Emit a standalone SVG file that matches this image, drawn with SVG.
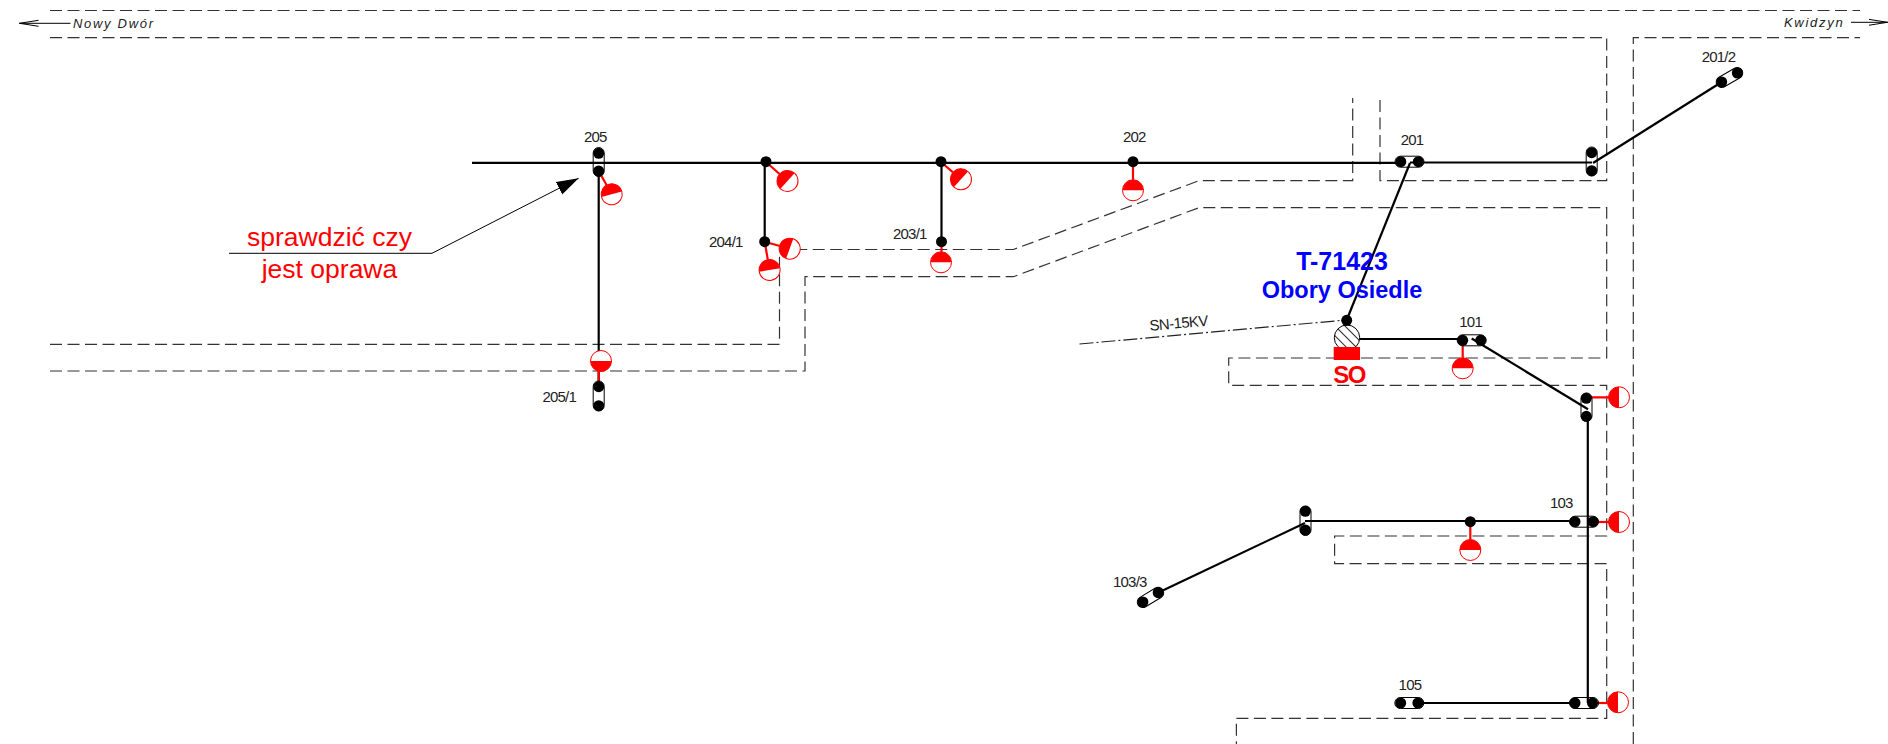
<svg xmlns="http://www.w3.org/2000/svg" width="1888" height="744" viewBox="0 0 1888 744">
<style>
text{font-family:"Liberation Sans",Arial,sans-serif}
.lb{font-size:15px;fill:#222;letter-spacing:-0.8px}
.town{font-size:13px;font-style:italic;fill:#222;letter-spacing:1.7px}
.note{font-size:26.5px;fill:#f00;text-anchor:middle}
.blue{font-size:23.5px;font-weight:bold;fill:#00f;text-anchor:middle}
.d{fill:none;stroke:#333;stroke-width:1.2;stroke-dasharray:12 5.5}
.w{fill:none;stroke:#000;stroke-width:2.2}
.t{fill:none;stroke:#000;stroke-width:1}
.r{fill:none;stroke:#f00;stroke-width:2.2}
.cap{fill:none;stroke:#000;stroke-width:1}
.dot{fill:#000}
</style>
<defs>
<marker id="open" markerUnits="userSpaceOnUse" markerWidth="22" markerHeight="10" refX="19.5" refY="5" orient="auto"><path d="M0,2 L19,5 L0,8" fill="none" stroke="#000" stroke-width="1"/></marker>
<marker id="solid" markerUnits="userSpaceOnUse" markerWidth="24" markerHeight="16" refX="22" refY="8" orient="auto"><path d="M0,1 L22,8 L0,15Z" fill="#000"/></marker>
<g id="lamp"><circle r="10.5" fill="#fff" stroke="#f00" stroke-width="1"/><path d="M-10.5,0 A10.5,10.5 0 0 1 10.5,0Z" fill="#f00"/></g>
<rect id="capH" x="-14.5" y="-5.5" width="29" height="11" rx="5.5" class="cap"/>
<pattern id="hatch" patternUnits="userSpaceOnUse" width="7" height="7" patternTransform="rotate(45)"><rect width="7" height="7" fill="#fff"/><line x1="0" y1="0" x2="7" y2="0" stroke="#000" stroke-width="1.6"/></pattern>
</defs>
<g id="boundaries">
<path class="d" d="M50,10.5H1860"/>
<path class="d" d="M50,37.7H1606.7V180.7H1380V98"/>
<path class="d" d="M1633.3,744V37.7H1860"/>
<path class="d" d="M50,344.3H779.5V249.5H1013.4L1199,180.7H1352.7V98"/>
<path class="d" d="M50,371H805V276.7H1013.4L1199,207.7H1606.7V358H1228.7V385.3H1606.7V536H1334.6V563.7H1606.7V718.3H1236.4V744"/>
</g>
<g id="connectors">
<path class="t" d="M70.5,23.3H19" marker-end="url(#open)"/>
<path class="t" d="M1851,22.3H1888" marker-end="url(#open)"/>
<path class="t" d="M229,253.3H432L578.6,178.3" marker-end="url(#solid)"/>
<path d="M1079.5,344L1346,320" fill="none" stroke="#222" stroke-width="1.2" stroke-dasharray="14 3 2 3"/>
<path class="w" d="M472,162.8H1400"/>
<path class="w" d="M598.7,171V386"/>
<path class="w" d="M764.7,162V241.7"/>
<path class="w" d="M941.5,162V241.7"/>
<path class="w" d="M1346.7,320L1410,163"/>
<path class="w" d="M1410,162.5H1592"/>
<path class="w" d="M1593,163L1721.7,82"/>
<path class="w" d="M1360,339H1462"/>
<path class="w" d="M1471.7,338.5L1588,409.3"/>
<path class="w" d="M1587.8,416V703"/>
<path class="w" d="M1305,521H1575"/>
<path class="w" d="M1305,523L1158,592.7"/>
<path class="w" d="M1418,703H1575"/>
<path class="r" d="M598.7,171L611.7,194.3"/>
<path class="r" d="M598.7,361V386"/>
<path class="r" d="M766,162L787.5,181"/>
<path class="r" d="M941,162L961,179.3"/>
<path class="r" d="M1133,162V190"/>
<path class="r" d="M764.7,241.7L789.7,248.7"/>
<path class="r" d="M764.7,241.7L769.6,270"/>
<path class="r" d="M941.5,241.7V262"/>
<path class="r" d="M1462.7,340V368"/>
<path class="r" d="M1586.3,397.3H1619"/>
<path class="r" d="M1470.3,521.7V550"/>
<path class="r" d="M1593,522H1619"/>
<path class="r" d="M1592.5,703H1618"/>
</g>
<g id="town-nowy-dwor"><text class="town" x="73" y="27.5">Nowy Dwór</text></g>
<g id="town-kwidzyn"><text class="town" x="1784" y="27">Kwidzyn</text></g>
<g id="note"><text class="note" x="329.5" y="245.7">sprawdzić czy</text><text class="note" x="329.5" y="277.7">jest oprawa</text></g>
<g id="n205"><rect x="593.2" y="147.5" width="11" height="29" rx="5.5" class="cap"/><circle class="dot" cx="598.7" cy="153.3" r="5.5"/><circle class="dot" cx="598.7" cy="171" r="5.5"/><use href="#lamp" transform="translate(611.7,194.3) rotate(-15)"/><text class="lb" x="584" y="142">205</text></g>
<g id="n205-1"><rect x="593.2" y="381" width="11" height="30" rx="5.5" class="cap"/><circle class="dot" cx="598.7" cy="386.7" r="5.5"/><circle class="dot" cx="598.7" cy="405.7" r="5.5"/><use href="#lamp" transform="translate(601,361) rotate(180)"/><text class="lb" x="542.4" y="401.7">205/1</text></g>
<g id="n204"><circle class="dot" cx="766" cy="161.7" r="5.5"/><use href="#lamp" transform="translate(787.5,181) rotate(-48)"/></g>
<g id="n204-1"><circle class="dot" cx="764.7" cy="241.7" r="5.5"/><use href="#lamp" transform="translate(789.7,248.7) rotate(-70)"/><use href="#lamp" transform="translate(769.6,270) rotate(-10)"/><text class="lb" x="709" y="247">204/1</text></g>
<g id="n203"><circle class="dot" cx="941" cy="161.7" r="5.5"/><use href="#lamp" transform="translate(961,179.3) rotate(-48)"/></g>
<g id="n203-1"><circle class="dot" cx="941.5" cy="241.7" r="5.5"/><use href="#lamp" transform="translate(941,262.3)"/><text class="lb" x="893" y="238.7">203/1</text></g>
<g id="n202"><circle class="dot" cx="1133" cy="161.7" r="5.5"/><use href="#lamp" transform="translate(1133,190.3)"/><text class="lb" x="1123" y="141.7">202</text></g>
<g id="n201"><use href="#capH" transform="translate(1409.5,161.7)"/><circle class="dot" cx="1400.8" cy="161.7" r="5.5"/><circle class="dot" cx="1418.3" cy="161.7" r="5.5"/><text class="lb" x="1400.7" y="145">201</text></g>
<g id="n201-pole"><rect x="1586.2" y="147" width="11" height="29" rx="5.5" class="cap"/><circle class="dot" cx="1591.7" cy="152.7" r="5.5"/><circle class="dot" cx="1591.7" cy="170.7" r="5.5"/></g>
<g id="n201-2"><use href="#capH" transform="translate(1729.5,77.5) rotate(-30)"/><circle class="dot" cx="1721.7" cy="82" r="5.5"/><circle class="dot" cx="1737.3" cy="73" r="5.5"/><text class="lb" x="1701.7" y="62">201/2</text></g>
<g id="station"><circle cx="1347" cy="337.7" r="12.7" fill="url(#hatch)" stroke="#000" stroke-width="1"/><circle class="dot" cx="1346.7" cy="320.3" r="5.5"/><rect x="1333.7" y="347" width="26.3" height="13" fill="#f00"/><text x="1349" y="383.3" font-size="24" font-weight="bold" fill="#f00" text-anchor="middle" letter-spacing="-1.5">SO</text><text class="blue" x="1342" y="270" style="font-size:25px">T-71423</text><text class="blue" x="1342" y="298">Obory Osiedle</text></g>
<g id="line-label"><text class="lb" transform="translate(1150,330.7) rotate(-5)" style="font-size:15px;letter-spacing:-0.6px">SN-15KV</text></g>
<g id="n101"><use href="#capH" transform="translate(1471.7,340.3)"/><circle class="dot" cx="1462.7" cy="340.3" r="5.5"/><circle class="dot" cx="1480.7" cy="340.3" r="5.5"/><use href="#lamp" transform="translate(1462.7,368.3)"/><text class="lb" x="1459.3" y="327">101</text></g>
<g id="n102"><rect x="1581" y="393" width="11" height="28.5" rx="5.5" class="cap"/><circle class="dot" cx="1586.3" cy="398.3" r="5.5"/><circle class="dot" cx="1586.3" cy="416.3" r="5.5"/><use href="#lamp" transform="translate(1619,397.3) rotate(-90)"/></g>
<g id="n103"><use href="#capH" transform="translate(1584,521.7)"/><circle class="dot" cx="1575" cy="521.7" r="5.5"/><circle class="dot" cx="1593" cy="521.7" r="5.5"/><use href="#lamp" transform="translate(1619,522) rotate(-90)"/><text class="lb" x="1550" y="508">103</text></g>
<g id="n103-1"><circle class="dot" cx="1470.3" cy="521.7" r="5.5"/><use href="#lamp" transform="translate(1470.3,550)"/></g>
<g id="n103-2"><rect x="1300" y="506" width="11" height="29.5" rx="5.5" class="cap"/><circle class="dot" cx="1305.3" cy="511.3" r="5.5"/><circle class="dot" cx="1305.3" cy="530" r="5.5"/></g>
<g id="n103-3"><use href="#capH" transform="translate(1150.5,597.4) rotate(-31)"/><circle class="dot" cx="1158.2" cy="592.7" r="5.5"/><circle class="dot" cx="1142.9" cy="602" r="5.5"/><text class="lb" x="1113" y="587">103/3</text></g>
<g id="n104"><use href="#capH" transform="translate(1584,703)"/><circle class="dot" cx="1575" cy="703" r="5.5"/><circle class="dot" cx="1592.5" cy="703" r="5.5"/><use href="#lamp" transform="translate(1618,702.3) rotate(-90)"/></g>
<g id="n105"><use href="#capH" transform="translate(1409.3,703)"/><circle class="dot" cx="1400.7" cy="703" r="5.5"/><circle class="dot" cx="1417.9" cy="703" r="5.5"/><text class="lb" x="1398.6" y="690">105</text></g>
</svg>
